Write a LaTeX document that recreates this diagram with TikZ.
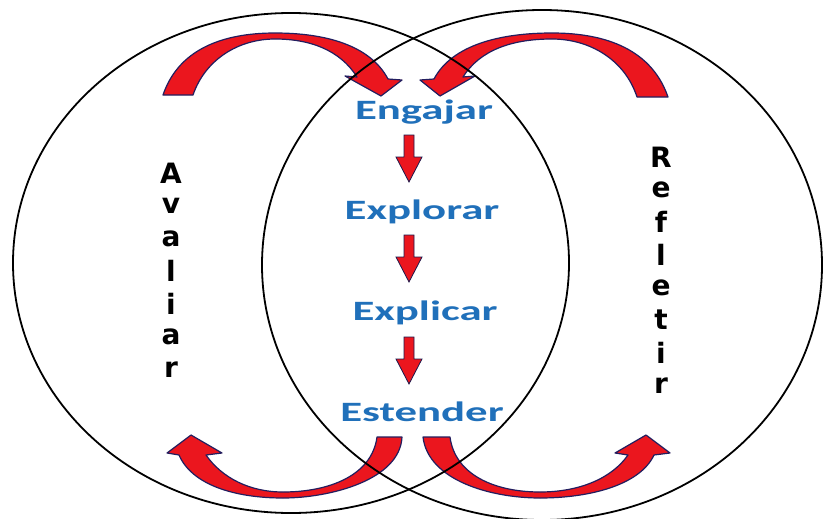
\documentclass[tikz,border=0pt]{standalone}
\usepackage{fontspec}
\newfontfamily\stagefont{Carlito}
\newfontfamily\sidefont{DejaVu Sans}
\definecolor{stageblue}{RGB}{32,112,186}
\definecolor{arrred}{RGB}{235,22,30}
\definecolor{arrline}{RGB}{35,30,95}
\tikzset{
  stage/.style={anchor=base, inner sep=0pt, text=stageblue, font=\stagefont\bfseries\fontsize{28}{28}\selectfont},
  sideletter/.style={inner sep=0pt, font=\sidefont\bfseries\fontsize{28}{28}\selectfont},
  bigarrow/.style={fill=arrred, draw=arrline, line width=1.2pt, line join=round},
  smallarrow/.style={fill=arrred, draw=arrline!80!black, line width=0.8pt},
  ring/.style={draw=black, line width=1.8pt}
}
\begin{document}
\begin{tikzpicture}[x=1pt,y=-1pt]
\useasboundingbox (0,0) rectangle (824,519);
\fill[white] (0,0) rectangle (824,519);

% stage texts
\node[stage] (eng) at (424,119) {\scalebox{1.6}[1]{Engajar}};
\node[stage] (exp) at (422,219) {\scalebox{1.6}[1]{Explorar}};
\node[stage] (exc) at (425,320) {\scalebox{1.6}[1]{Explicar}};
\node[stage] (est) at (422,421) {\scalebox{1.6}[1]{Estender}};

% vertical words
\foreach \l [count=\i] in {A,v,a,l,i,a,r}
  \node[sideletter] (av\i) at (171,{173+32.7*(\i-1)}) {\l};
\foreach \l [count=\i] in {R,e,f,l,e,t,i,r}
  \node[sideletter] (rf\i) at (661,{157+32.6*(\i-1)}) {\l};

% small down arrows
\foreach \y in {135,235,337}
  \draw[smallarrow] (404,\y) -- ++(10,0) -- ++(0,22) -- ++(8,0) -- ++(-13,25) -- ++(-13,-25) -- ++(8,0) -- cycle;

% top-left arrow
\draw[bigarrow] (163,95) .. controls (180,45) and (230,33) .. (275,33)
  .. controls (325,33) and (370,45) .. (388,79)
  -- (402,80) -- (381,96) -- (345,76) -- (357,77)
  .. controls (340,50) and (310,39) .. (275,39)
  .. controls (238,39) and (205,60) .. (193,95) -- cycle;
% top-right arrow
\draw[bigarrow] (668,97) .. controls (650,45) and (598,33) .. (552,33)
  .. controls (500,33) and (452,45) .. (434,79)
  -- (420,80) -- (440,96) -- (475,76) -- (463,77)
  .. controls (480,50) and (512,39) .. (552,39)
  .. controls (590,39) and (625,60) .. (637,97) -- cycle;
% bottom-left arrow
\draw[bigarrow] (377,437) -- (402,437)
  .. controls (400,480) and (330,498) .. (283,498)
  .. controls (235,498) and (192,485) .. (179,455)
  -- (167,453) -- (191,435) -- (222,453) -- (206,455)
  .. controls (222,478) and (250,492) .. (283,492)
  .. controls (330,492) and (372,475) .. (377,437) -- cycle;
% bottom-right arrow
\draw[bigarrow] (450,437) -- (423,437)
  .. controls (428,480) and (490,498) .. (540,498)
  .. controls (590,498) and (640,485) .. (654,455)
  -- (670,453) -- (646,435) -- (615,453) -- (628,455)
  .. controls (612,478) and (580,492) .. (540,492)
  .. controls (495,492) and (455,475) .. (450,437) -- cycle;

% circles
\draw[ring] (291,263) ellipse [x radius=278, y radius=250];
\draw[ring] (542,265) ellipse [x radius=280, y radius=255];
\end{tikzpicture}
\end{document}
